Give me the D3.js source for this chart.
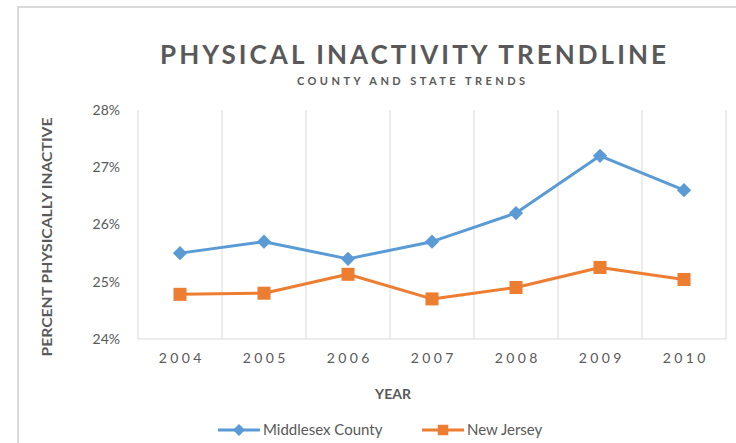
<!DOCTYPE html>
<html>
<head>
<meta charset="utf-8">
<script src="https://cdn.jsdelivr.net/npm/d3@7"></script>
<style>
  body { margin: 0; background: #fff; }
  svg { display: block; font-family: Lato, "Open Sans", sans-serif; }
</style>
</head>
<body>
<svg id="chart" width="736" height="443"></svg>
<script>
const years = ["2004", "2005", "2006", "2007", "2008", "2009", "2010"];
const middlesex = [25.5, 25.7, 25.4, 25.7, 26.2, 27.2, 26.6];
const newJersey = [24.78, 24.8, 25.13, 24.7, 24.9, 25.25, 25.04];
const yTicks = [24, 25, 26, 27, 28];
const seriesNames = ["Middlesex County", "New Jersey"];
const seriesColors = ["#5b9bd5", "#ed7d31"];

const svg = d3.select("#chart");
const W = 736, H = 443;
const m = { left: 138, right: 726, top: 110, bottom: 339 };
const grey = "#595959";

// chart border
svg.append("rect").attr("x", 18).attr("y", 7).attr("width", W + 20).attr("height", H + 20)
  .attr("fill", "none").attr("stroke", "#d9d9d9").attr("stroke-width", 2);

const x = d3.scaleBand().domain(years).range([m.left, m.right]);
const y = d3.scaleLinear().domain([24, 28]).range([m.bottom, m.top]);

// vertical gridlines at band boundaries
const bounds = years.map(d => x(d)).concat([m.right]);
svg.append("g").selectAll("line").data(bounds).join("line")
  .attr("x1", d => d).attr("x2", d => d)
  .attr("y1", m.top).attr("y2", m.bottom)
  .attr("stroke", "#d9d9d9").attr("stroke-width", 1);

// bottom axis line
svg.append("line").attr("x1", m.left).attr("x2", m.right)
  .attr("y1", m.bottom).attr("y2", m.bottom)
  .attr("stroke", "#d9d9d9").attr("stroke-width", 1);

// y axis labels
const yAxis = d3.axisLeft(y).tickValues(yTicks).tickFormat(d => d + "%").tickSize(0).tickPadding(18);
const yg = svg.append("g").attr("transform", `translate(${m.left},0)`).call(yAxis);
yg.select(".domain").remove();
yg.selectAll("text").attr("fill", grey).style("font-size", "14px").style("font-family", "Lato, sans-serif");

// x axis labels
const xAxis = d3.axisBottom(x).tickSize(0).tickPadding(14);
const xg = svg.append("g").attr("transform", `translate(0,${m.bottom})`).call(xAxis);
xg.select(".domain").remove();
xg.selectAll("text").attr("fill", grey).style("font-size", "14px").style("font-family", "Lato, sans-serif")
  .style("letter-spacing", "3.4px").attr("dx", "1.7px");

// lines and markers
const line = d3.line().x((d, i) => x(years[i]) + x.bandwidth() / 2).y(d => y(d));
const data = [middlesex, newJersey];
data.forEach((vals, si) => {
  svg.append("path").datum(vals).attr("d", line)
    .attr("fill", "none").attr("stroke", seriesColors[si]).attr("stroke-width", 3)
    .attr("stroke-linejoin", "round");
  const sym = si === 0 ? d3.symbol().type(d3.symbolDiamond2).size(130)
                       : d3.symbol().type(d3.symbolSquare).size(170);
  svg.append("g").selectAll("path").data(vals).join("path")
    .attr("d", sym)
    .attr("transform", (d, i) => `translate(${x(years[i]) + x.bandwidth() / 2},${y(d)})`)
    .attr("fill", seriesColors[si]);
});

// titles
svg.append("text").attr("x", 413).attr("y", 64).attr("text-anchor", "middle")
  .attr("fill", grey).style("font-size", "26px").style("font-weight", "bold")
  .attr("textLength", 506).attr("lengthAdjust", "spacing")
  .text("PHYSICAL INACTIVITY  TRENDLINE");
svg.append("text").attr("x", 411).attr("y", 85).attr("text-anchor", "middle")
  .attr("fill", grey).style("font-size", "11px").style("font-weight", "bold")
  .attr("textLength", 228).attr("lengthAdjust", "spacing")
  .text("COUNTY AND STATE TRENDS");

// axis titles
svg.append("text").attr("transform", "translate(52,237) rotate(-90)")
  .attr("text-anchor", "middle").attr("fill", grey)
  .style("font-size", "14px").style("font-weight", "bold")
  .attr("textLength", 239).attr("lengthAdjust", "spacingAndGlyphs")
  .text("PERCENT PHYSICALLY INACTIVE");
svg.append("text").attr("x", 393).attr("y", 399).attr("text-anchor", "middle")
  .attr("fill", grey).style("font-size", "14px").style("font-weight", "bold")
  .text("YEAR");

// legend
const legX = [218, 422];
seriesNames.forEach((name, si) => {
  const g = svg.append("g").attr("transform", `translate(${legX[si]},430)`);
  g.append("line").attr("x1", 0).attr("x2", 42).attr("y1", 0).attr("y2", 0)
    .attr("stroke", seriesColors[si]).attr("stroke-width", 3);
  const sym = si === 0 ? d3.symbol().type(d3.symbolDiamond2).size(90)
                       : d3.symbol().type(d3.symbolSquare).size(110);
  g.append("path").attr("d", sym).attr("transform", "translate(21,0)").attr("fill", seriesColors[si]);
  g.append("text").attr("x", 45).attr("y", 5).attr("fill", grey)
    .style("font-size", "15px").text(name);
});
</script>
</body>
</html>
